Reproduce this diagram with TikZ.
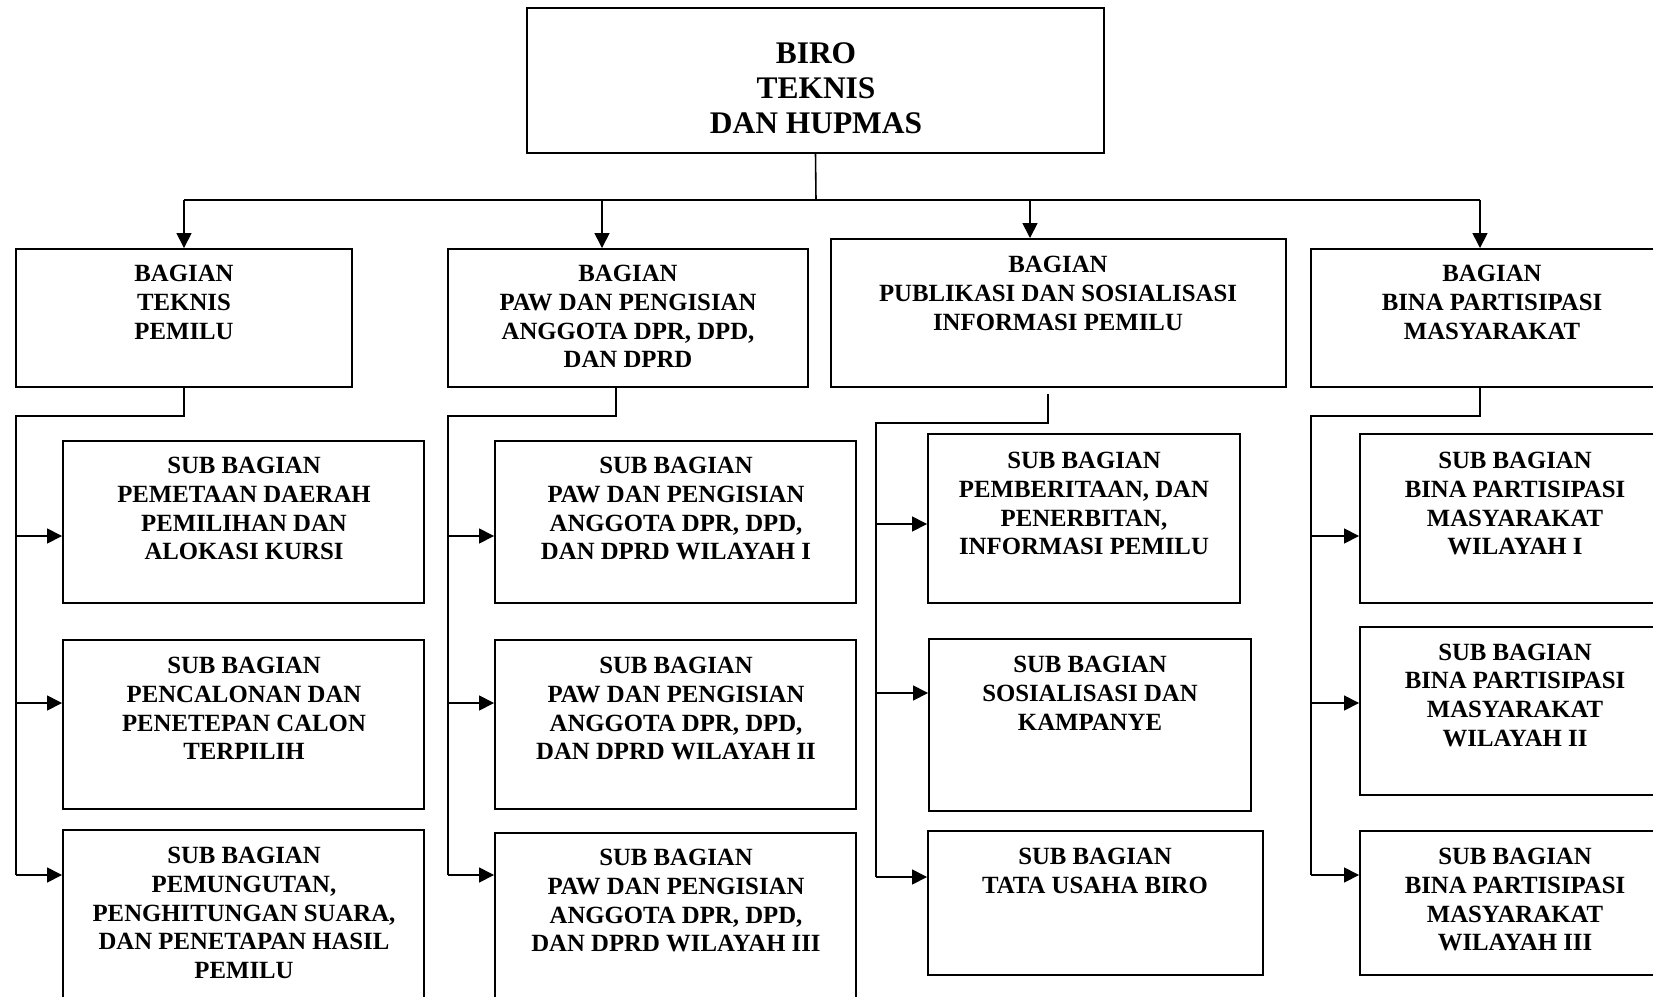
\documentclass[tikz,border=0pt]{standalone}
\usepackage{fontspec}
\setmainfont{Liberation Serif}
\usetikzlibrary{arrows.meta,fit}
\tikzset{
  box/.style={draw, line width=1.1pt, inner sep=0pt},
  lbl/.style={anchor=north, inner sep=0pt, align=center, font=\bfseries\fontsize{14.1}{16.3}\selectfont},
  link/.style={line width=0.9pt},
  arr/.style={link, -{Triangle[length=8.5pt,width=8.5pt]}}
}
\begin{document}
\begin{tikzpicture}[x=0.02cm,y=-0.02cm]
\useasboundingbox (0,0) rectangle (1653,997);
\node[box, fit={(527,8) (1104,153)}] (biro) {};
\node[lbl, font=\bfseries\fontsize{17.9}{19.8}\selectfont] (tbiro) at (816,42.5) {BIRO\\TEKNIS\\DAN HUPMAS};
\node[box, fit={(16,249) (352,387)}] (b1) {};
\node[box, fit={(448,249) (808,387)}] (b2) {};
\node[box, fit={(831,239) (1286,387)}] (b3) {};
\node[box, fit={(1311,249) (1673,387)}] (b4) {};
\node[lbl] (tb1) at (184,265) {BAGIAN\\TEKNIS\\PEMILU};
\node[lbl] (tb2) at (628,265) {BAGIAN\\PAW DAN PENGISIAN\\ANGGOTA DPR, DPD,\\DAN DPRD};
\node[lbl] (tb3) at (1058,256) {BAGIAN\\PUBLIKASI DAN SOSIALISASI\\INFORMASI PEMILU};
\node[lbl] (tb4) at (1492,265) {BAGIAN\\BINA PARTISIPASI\\MASYARAKAT};
\node[box, fit={(63,441) (424,603)}] (s11) {};
\node[box, fit={(63,640) (424,809)}] (s12) {};
\node[box, fit={(63,830) (424,1010)}] (s13) {};
\node[lbl] (t11) at (244,457) {SUB BAGIAN\\PEMETAAN DAERAH\\PEMILIHAN DAN\\ALOKASI KURSI};
\node[lbl] (t12) at (244,657) {SUB BAGIAN\\PENCALONAN DAN\\PENETEPAN CALON\\TERPILIH};
\node[lbl] (t13) at (244,847) {SUB BAGIAN\\PEMUNGUTAN,\\PENGHITUNGAN SUARA,\\DAN PENETAPAN HASIL\\PEMILU};
\node[box, fit={(495,441) (856,603)}] (s21) {};
\node[box, fit={(495,640) (856,809)}] (s22) {};
\node[box, fit={(495,833) (856,1010)}] (s23) {};
\node[lbl] (t21) at (676,457) {SUB BAGIAN\\PAW DAN PENGISIAN\\ANGGOTA DPR, DPD,\\DAN DPRD WILAYAH I};
\node[lbl] (t22) at (676,657) {SUB BAGIAN\\PAW DAN PENGISIAN\\ANGGOTA DPR, DPD,\\DAN DPRD WILAYAH II};
\node[lbl] (t23) at (676,849) {SUB BAGIAN\\PAW DAN PENGISIAN\\ANGGOTA DPR, DPD,\\DAN DPRD WILAYAH III};
\node[box, fit={(928,434) (1240,603)}] (s31) {};
\node[box, fit={(929,639) (1251,811)}] (s32) {};
\node[box, fit={(928,831) (1263,975)}] (s33) {};
\node[lbl] (t31) at (1084,452) {SUB BAGIAN\\PEMBERITAAN, DAN\\PENERBITAN,\\INFORMASI PEMILU};
\node[lbl] (t32) at (1090,656) {SUB BAGIAN\\SOSIALISASI DAN\\KAMPANYE};
\node[lbl] (t33) at (1095,848) {SUB BAGIAN\\TATA USAHA BIRO};
\node[box, fit={(1360,434) (1670,603)}] (s41) {};
\node[box, fit={(1360,627) (1670,795)}] (s42) {};
\node[box, fit={(1360,831) (1670,975)}] (s43) {};
\node[lbl] (t41) at (1515,452) {SUB BAGIAN\\BINA PARTISIPASI\\MASYARAKAT\\WILAYAH I};
\node[lbl] (t42) at (1515,643.5) {SUB BAGIAN\\BINA PARTISIPASI\\MASYARAKAT\\WILAYAH II};
\node[lbl] (t43) at (1515,848) {SUB BAGIAN\\BINA PARTISIPASI\\MASYARAKAT\\WILAYAH III};
\coordinate (bus) at (816,200);
\coordinate (d1) at (184,200);
\coordinate (d2) at (602,200);
\coordinate (d3) at (1030,200);
\coordinate (d4) at (1480,200);
\draw[link] (biro.south) -- (bus);
\draw[link] (d1) -- (d4);
\foreach \i in {1,...,4}
  \draw[arr] (d\i) -- (d\i |- b\i.north);
\coordinate (e1) at (184,387);
\coordinate (e2) at (616,387);
\coordinate (e3) at (1048,394);
\coordinate (e4) at (1480,387);
\coordinate (k1) at (16,416);
\coordinate (k2) at (448,416);
\coordinate (k3) at (876,423);
\coordinate (k4) at (1311,416);
\coordinate (a11) at (16,536);
\coordinate (a12) at (16,703);
\coordinate (a13) at (16,875);
\coordinate (a21) at (448,536);
\coordinate (a22) at (448,703);
\coordinate (a23) at (448,875);
\coordinate (a31) at (876,524);
\coordinate (a32) at (876,693);
\coordinate (a33) at (876,877);
\coordinate (a41) at (1311,536);
\coordinate (a42) at (1311,703);
\coordinate (a43) at (1311,875);
\foreach \i in {1,...,4} {
  \draw[link] (e\i) |- (k\i) -- (a\i3);
  \foreach \j in {1,2,3}
    \draw[arr] (a\i\j) -- (a\i\j -| s\i\j.west);
}
\end{tikzpicture}
\end{document}
